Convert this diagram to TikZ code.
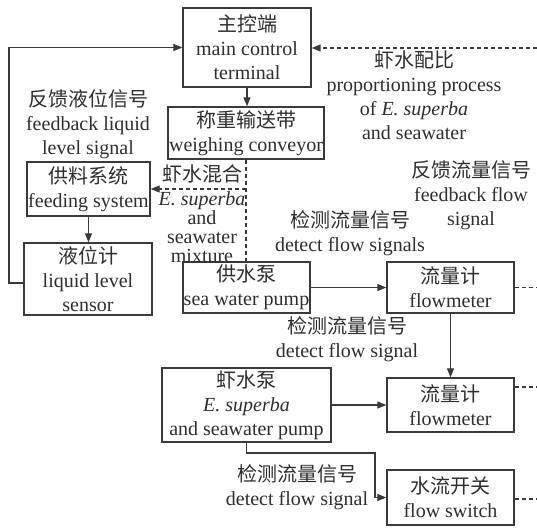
\documentclass[tikz,border=0pt]{standalone}
\usepackage{fontspec}
\setmainfont{Liberation Serif}
\newfontfamily\cjk{Noto Sans CJK SC}
\usetikzlibrary{arrows.meta}
\definecolor{ln}{HTML}{3A3A3A}
\definecolor{tx}{HTML}{2E2E2E}
\newcommand\fsz{\fontsize{20}{24}\selectfont}
\begin{document}
\begin{tikzpicture}[x=1pt,y=-1pt,
  box/.style={draw=ln, line width=1.3pt, inner sep=0pt, align=center, text=tx, font=\fsz},
  lbl/.style={inner sep=0pt, align=center, text=tx, font=\fsz},
  conn/.style={draw=ln, line width=1.1pt},
  arr/.style={conn, -{Triangle[length=9pt,width=7pt]}},
  dsh/.style={conn, dash pattern=on 4pt off 3pt},
]
\useasboundingbox (0,0) rectangle (537,527);

% boxes
\node[box, minimum width=128pt, minimum height=79pt] (main) at (247,47.5) {{\cjk 主控端}\\main control\\terminal};
\node[box, minimum width=156pt, minimum height=52pt] (weigh) at (246,133) {{\cjk 称重输送带}\\weighing conveyor};
\node[box, minimum width=123pt, minimum height=54pt] (feed) at (88.5,189) {{\cjk 供料系统}\\feeding system};
\node[box, minimum width=128pt, minimum height=72pt] (level) at (88,279) {{\cjk 液位计}\\liquid level\\sensor};
\node[box, minimum width=127pt, minimum height=51pt] (swpump) at (246.5,287.5) {{\cjk 供水泵}\\sea water pump};
\node[box, minimum width=127pt, minimum height=51pt] (fm1) at (450.5,287.5) {{\cjk 流量计}\\flowmeter};
\node[box, minimum width=169pt, minimum height=74pt] (krill) at (246.5,405) {{\cjk 虾水泵}\\\textit{E. superba}\\and seawater pump};
\node[box, minimum width=127pt, minimum height=54pt] (fm2) at (450.5,405) {{\cjk 流量计}\\flowmeter};
\node[box, minimum width=127pt, minimum height=55pt] (sw) at (450.5,497.5) {{\cjk 水流开关}\\flow switch};

% labels
\node[lbl] (lfbl) at (88,124) {{\cjk 反馈液位信号}\\feedback liquid\\level signal};
\node[lbl, font=\fontsize{20}{19}\selectfont] (lmix) at (202,214) {{\cjk 虾水混合}\\[5pt]\textit{E. superba}\\and\\seawater\\mixture};
\node[lbl] (lprop) at (414,95.5) {{\cjk 虾水配比}\\proportioning process\\of \textit{E. superba}\\and seawater};
\node[lbl] (lfbf) at (471,195) {{\cjk 反馈流量信号}\\feedback flow\\signal};
\node[lbl] (ldet1) at (350,233) {{\cjk 检测流量信号}\\detect flow signals};
\node[lbl] (ldet2) at (347,339.5) {{\cjk 检测流量信号}\\detect flow signal};
\node[lbl] (ldet3) at (297,487.5) {{\cjk 检测流量信号}\\detect flow signal};

% helper coordinates
\coordinate (lA) at (9,283);
\coordinate (d0) at (537,48);
\coordinate (d1) at (537,287.5);
\coordinate (d2) at (537,387);
\coordinate (d3) at (537,499);
\coordinate (k2) at (375,453);

% connectors
\draw[arr] (level.west |- lA) -- (lA) |- (main.west);
\draw[arr] (main.south) -- (main.south |- weigh.north);
\draw[dsh] (weigh.south) -- (weigh.south |- swpump.north);
\draw[dsh, -{Triangle[length=9pt,width=7pt]}] (weigh.south |- feed.east) -- (feed.east);
\draw[arr] (feed.south) -- (feed.south |- level.north);
\draw[dsh, -{Triangle[length=9pt,width=7pt]}] (d0) -- (d0 -| main.east);
\draw[arr] (swpump) -- (fm1);
\draw[arr] (fm1) -- (fm2);
\draw[arr] (krill) -- (fm2);
\draw[dsh] (fm1.east) -- (d1);
\draw[dsh] (d2 -| fm2.east) -- (d2);
\draw[dsh] (d3 -| sw.east) -- (d3);
\draw[arr] (krill.south) -- (krill.south |- k2) -- (k2) |- (sw.west);
\end{tikzpicture}
\end{document}
